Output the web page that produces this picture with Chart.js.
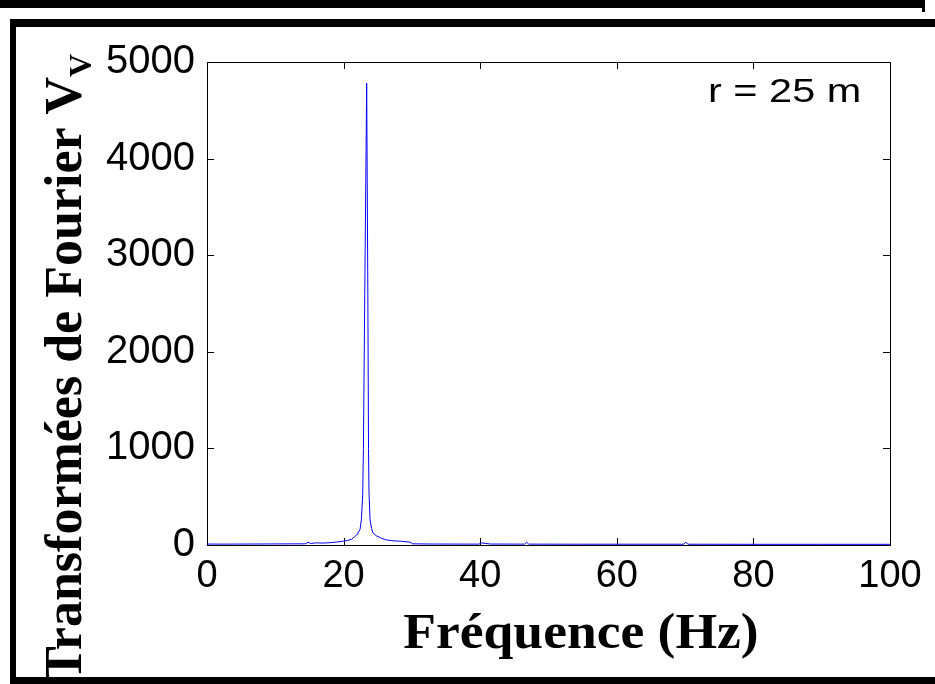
<!DOCTYPE html>
<html>
<head>
<meta charset="utf-8">
<script src="https://cdn.jsdelivr.net/npm/chart.js@4.4.1/dist/chart.umd.min.js"></script>
<style>
    html, body { margin: 0; padding: 0; background: #fff; }
    #wrap { width: 935px; height: 684px; }
</style>
</head>
<body>
<div id="wrap"><canvas id="fftChart" width="935" height="684"></canvas></div>
<script>
// spectrum (Hz, amplitude)
const freqs = [0, 2, 6, 10, 14.4, 14.8, 15.2, 16, 17, 18, 19, 20, 20.6, 21.2, 21.6, 22.0, 22.1, 22.4, 22.6, 22.8, 22.9, 23.1, 23.38,
    23.55, 23.65, 23.72, 23.87, 24.1, 24.3, 24.8, 25.4, 26.1, 27, 28.5, 29.7, 30.1, 33, 39.8, 40.2, 41, 41.5, 46.5, 46.8, 47.1,
    55, 69.8, 70.1, 70.4, 80, 90, 100];
const amps = [10, 9, 10, 11, 12, 28, 16, 22, 20, 24, 30, 40, 48, 60, 85, 110, 125, 160, 260, 520, 1000, 2600, 4780,
    2600, 1000, 540, 260, 170, 125, 95, 75, 55, 45, 38, 30, 12, 10, 9, 22, 14, 10, 9, 28, 9,
    8, 8, 30, 8, 7, 7, 7];

const xTicks = [0, 20, 40, 60, 80, 100];
const yTicks = [0, 1000, 2000, 3000, 4000, 5000];
const xTitle = 'Fréquence (Hz)';
const yTitle = 'Transformées de Fourier V';
const yTitleSub = 'V';
const note = 'r = 25 m';

const sansFont = "'Liberation Sans', Arial, sans-serif";
const serifFont = "'Liberation Serif', 'Times New Roman', serif";

// box, inward ticks, titles, annotation and the outer frame
const decorations = {
    id: 'decorations',
    beforeDatasetsDraw(chart) {
        const ctx = chart.ctx;
        const a = chart.chartArea;
        const xs = chart.scales.x;
        const ys = chart.scales.y;
        ctx.save();
        ctx.strokeStyle = '#000';
        ctx.lineWidth = 1;
        ctx.strokeRect(a.left + 0.5, a.top + 0.5, a.right - a.left, a.bottom - a.top);
        ctx.beginPath();
        xs.ticks.forEach(t => {
            const px = Math.round(xs.getPixelForValue(t.value)) + 0.5;
            ctx.moveTo(px, a.bottom);
            ctx.lineTo(px, a.bottom - 7);
            ctx.moveTo(px, a.top);
            ctx.lineTo(px, a.top + 7);
        });
        ys.ticks.forEach(t => {
            const py = Math.round(ys.getPixelForValue(t.value)) + 0.5;
            ctx.moveTo(a.left, py);
            ctx.lineTo(a.left + 7, py);
            ctx.moveTo(a.right, py);
            ctx.lineTo(a.right - 7, py);
        });
        ctx.stroke();
        ctx.restore();
    },
    afterDraw(chart) {
        const ctx = chart.ctx;
        ctx.save();
        ctx.fillStyle = '#000';
        ctx.textBaseline = 'alphabetic';

        // the source picture is a little stretched sideways
        ctx.font = '34px ' + sansFont;
        ctx.textAlign = 'left';
        ctx.setTransform(1.22, 0, 0, 1, 708, 102);
        ctx.fillText(note, 0, 0);

        ctx.font = 'bold 51px ' + serifFont;
        ctx.textAlign = 'center';
        ctx.setTransform(1.05, 0, 0, 1, 581, 648);
        ctx.fillText(xTitle, 0, 0);

        ctx.setTransform(1, 0, 0, 1, 81, 681);
        ctx.rotate(-Math.PI / 2);
        ctx.textAlign = 'left';
        ctx.font = 'bold 52px ' + serifFont;
        ctx.fillText(yTitle, 0, 0);
        const w = ctx.measureText(yTitle).width;
        ctx.font = 'bold 32px ' + serifFont;
        ctx.fillText(yTitleSub, w, 10);
        ctx.setTransform(1, 0, 0, 1, 0, 0);

        // outer frame
        ctx.fillRect(0, 0, 925, 8);
        ctx.fillRect(922, 0, 3, 12);
        ctx.fillRect(10, 19, 925, 8);
        ctx.fillRect(10, 19, 6, 665);
        ctx.fillRect(10, 677, 925, 7);
        ctx.restore();
    }
};

new Chart(document.getElementById('fftChart'), {
    type: 'line',
    data: {
        datasets: [{
            data: freqs.map((f, i) => ({ x: f, y: amps[i] })),
            borderColor: 'rgb(0, 0, 255)',
            borderWidth: 1,
            pointRadius: 0,
            tension: 0,
            fill: false
        }]
    },
    options: {
        responsive: false,
        animation: false,
        devicePixelRatio: 1,
        layout: { padding: { left: 0, top: 62, right: 45, bottom: 0 } },
        plugins: { legend: { display: false }, tooltip: { enabled: false } },
        scales: {
            x: {
                type: 'linear',
                min: 0,
                max: 100,
                afterFit: (scale) => { scale.height = 139; },
                afterBuildTicks: (scale) => { scale.ticks = xTicks.map(v => ({ value: v })); },
                grid: { display: false },
                border: { display: false },
                ticks: {
                    color: '#000',
                    font: { family: sansFont, size: 38 },
                    padding: 1,
                    maxRotation: 0,
                    autoSkip: false,
                    callback: (v) => String(v)
                }
            },
            y: {
                type: 'linear',
                min: 0,
                max: 5000,
                afterFit: (scale) => { scale.width = 207; },
                afterBuildTicks: (scale) => { scale.ticks = yTicks.map(v => ({ value: v })); },
                grid: { display: false },
                border: { display: false },
                ticks: {
                    color: '#000',
                    font: { family: sansFont, size: 40 },
                    padding: 4,
                    autoSkip: false,
                    callback: (v) => String(v)
                }
            }
        }
    },
    plugins: [decorations]
});
</script>
</body>
</html>
